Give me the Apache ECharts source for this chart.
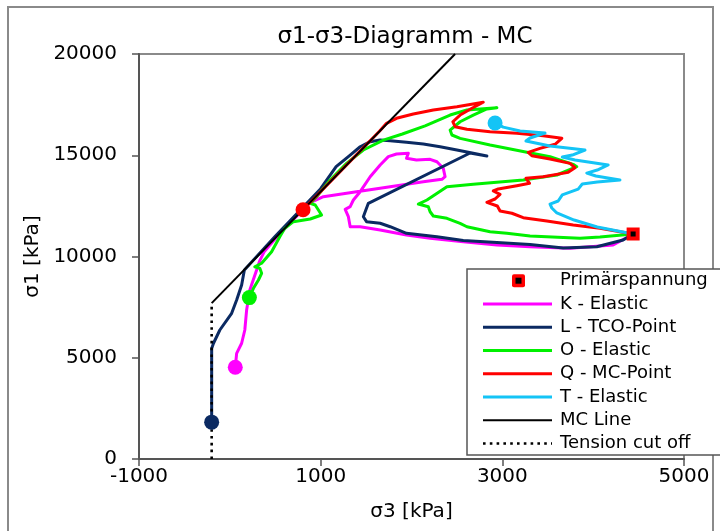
<!DOCTYPE html>
<html>
<head>
<meta charset="utf-8">
<script src="https://cdn.jsdelivr.net/npm/echarts@6/dist/echarts.min.js"></script>
<style>
  html, body { margin: 0; padding: 0; background: #fff; }
  #chart { width: 720px; height: 531px; }
</style>
</head>
<body>
<div id="chart"></div>
<script>
// Stress paths in the σ3–σ1 plane, [σ3, σ1] in kPa
const primary = [4440, 11110];

const kPath = [[4440,11110],[4220,10565],[3745,10405],[3305,10485],[2940,10565],[2570,10730],[2205,10900],[1945,11060],[1655,11310],[1435,11470],[1325,11470],[1305,11965],[1270,12330],[1325,12460],[1360,12790],[1435,13200],[1545,13940],[1655,14520],[1745,14930],[1835,15060],[1965,15095],[1945,14850],[2055,14765],[2205,14800],[2280,14680],[2350,14355],[2370,13940],[2335,13810],[2130,13695],[1765,13445],[1395,13200],[1030,12955],[880,12650],[700,11830],[500,10880],[380,10250],[330,9800],[295,9335],[220,8345],[185,7360],[165,6370],[130,5715],[75,5220],[60,4530]];

const lPath = [[4440,11110],[4330,10815],[4040,10485],[3670,10420],[3305,10590],[2940,10690],[2570,10790],[2280,10975],[1945,11145],[1765,11470],[1655,11640],[1505,11720],[1470,11965],[1490,12210],[1525,12625],[2645,15110],[2830,14960],[2680,15095],[2500,15260],[2315,15420],[2130,15555],[1945,15640],[1765,15720],[1655,15750],[1545,15670],[1435,15420],[1325,15010],[1170,14435],[1000,13350],[800,12400],[500,11000],[160,9330],[130,8590],[75,7850],[20,7195],[-110,6370],[-180,5715],[-200,5450],[-200,1820]];

const oPath = [[4440,11110],[4075,10960],[3855,10900],[3305,11010],[3050,11145],[2865,11225],[2610,11470],[2535,11640],[2390,11885],[2240,12000],[2205,12210],[2185,12460],[2075,12590],[2170,12790],[2390,13445],[2680,13565],[3230,13780],[3600,14025],[3820,14435],[3780,14550],[3525,14930],[3270,15145],[2865,15505],[2535,15835],[2445,16000],[2425,16245],[2535,16655],[2680,16985],[2830,17285],[2940,17345],[2610,17235],[2425,16985],[2150,16450],[1900,16050],[1690,15750],[1470,15260],[1285,14600],[1105,13780],[955,12950],[885,12625],[940,12545],[1010,12050],[885,11850],[700,11720],[605,11390],[550,10975],[460,10235],[350,9665],[275,9495],[330,9415],[350,9170],[315,8840],[260,8430],[215,7970]];

const qPath = [[4440,11110],[4075,11390],[3780,11555],[3490,11750],[3230,11915],[3105,12135],[2975,12245],[2945,12495],[2830,12675],[2920,12840],[2975,13070],[2900,13235],[2955,13335],[3160,13495],[3300,13615],[3260,13860],[3450,13940],[3725,14155],[3800,14385],[3745,14600],[3525,14815],[3325,14975],[3285,15145],[3415,15340],[3580,15540],[3655,15835],[3450,15965],[3160,16085],[2865,16160],[2610,16280],[2480,16410],[2455,16655],[2535,16985],[2665,17320],[2790,17615],[2500,17395],[2240,17235],[2020,17035],[1835,16825],[1725,16575],[1650,16200],[1200,14130],[806,12310]];

const tPath = [[4440,11110],[4045,11455],[3790,11800],[3600,12150],[3545,12395],[3525,12590],[3615,12740],[3660,13040],[3835,13330],[3880,13580],[4045,13680],[4295,13780],[4030,13975],[3930,14120],[4045,14270],[4165,14520],[3800,14765],[3660,14910],[3770,15010],[3910,15260],[3525,15460],[3260,15700],[3305,15850],[3470,16100],[3195,16200],[3010,16390],[2920,16590]];

const mcLine = [[-200,7700],[2480,20000]];
const tensionCutOff = [[-200,0],[-200,7700]];

const xTicks = { min: -1000, max: 5000, step: 2000 };
const yTicks = { min: 0, max: 20000, step: 5000 };

const FONT = 'DejaVu Sans';
const AXIS_FONT = 20;
const LEGEND_FONT = 18;
const TITLE_FONT = 23;

const paths = [
  { name: 'K - Elastic',   data: kPath, color: '#FF00FF' },
  { name: 'L - TCO-Point', data: lPath, color: '#0B2A62' },
  { name: 'O - Elastic',   data: oPath, color: '#00F000' },
  { name: 'Q - MC-Point',  data: qPath, color: '#FF0000' },
  { name: 'T - Elastic',   data: tPath, color: '#14C4F6' }
];

const series = [];
paths.forEach(p => {
  series.push({
    name: p.name, type: 'line', data: p.data, showSymbol: false, symbol: 'none',
    lineStyle: { color: p.color, width: 3, join: 'round', cap: 'round' },
    z: 2, animation: false, silent: true
  });
});
series.push({
  name: 'MC Line', type: 'line', data: mcLine, showSymbol: false, symbol: 'none',
  lineStyle: { color: '#000', width: 2 }, z: 3, animation: false, silent: true
});
series.push({
  name: 'Tension cut off', type: 'line', data: tensionCutOff, showSymbol: false, symbol: 'none',
  lineStyle: { color: '#000', width: 2.6, type: [2.6, 4.2] }, z: 3, animation: false, silent: true
});
// end point of each path
series.push({
  type: 'scatter', symbol: 'circle', symbolSize: 15, z: 4, animation: false, silent: true,
  data: paths.map(p => ({ value: p.data[p.data.length - 1], itemStyle: { color: p.color, opacity: 1 } }))
});
series.push({
  name: 'Primärspannung', type: 'scatter', symbol: 'rect', symbolSize: 9, z: 5,
  animation: false, silent: true,
  itemStyle: { color: '#000', borderColor: '#FF0000', borderWidth: 4, opacity: 1 },
  data: [primary]
});

// legend box
const legendItems = [
  { label: 'Primärspannung', kind: 'marker' },
  { label: 'K - Elastic', kind: 'line', color: '#FF00FF', width: 3 },
  { label: 'L - TCO-Point', kind: 'line', color: '#0B2A62', width: 3 },
  { label: 'O - Elastic', kind: 'line', color: '#00F000', width: 3 },
  { label: 'Q - MC-Point', kind: 'line', color: '#FF0000', width: 3 },
  { label: 'T - Elastic', kind: 'line', color: '#14C4F6', width: 3 },
  { label: 'MC Line', kind: 'line', color: '#000', width: 2 },
  { label: 'Tension cut off', kind: 'dots', color: '#000', width: 2.6 }
];
const graphics = [
  { type: 'rect', shape: { x: 8, y: 7, width: 705, height: 540 },
    style: { fill: 'none', stroke: '#8a8a8a', lineWidth: 2 }, z: 0, silent: true },
  { type: 'rect', shape: { x: 467, y: 269, width: 260, height: 186 },
    style: { fill: '#fff', stroke: '#555', lineWidth: 1.5 }, z: 10, silent: true }
];
legendItems.forEach((it, i) => {
  const y = 280.7 + i * 23.25;
  if (it.kind === 'marker') {
    graphics.push({ type: 'rect', shape: { x: 512, y: y - 6.5, width: 13, height: 13, r: 2 },
      style: { fill: '#FF0000' }, z: 11, silent: true });
    graphics.push({ type: 'rect', shape: { x: 515.5, y: y - 3, width: 6, height: 6 },
      style: { fill: '#000' }, z: 12, silent: true });
  } else {
    graphics.push({ type: 'line', shape: { x1: 483, y1: y, x2: 552, y2: y },
      style: { stroke: it.color, lineWidth: it.width,
               lineDash: it.kind === 'dots' ? [2.6, 4.2] : null }, z: 11, silent: true });
  }
  graphics.push({ type: 'text', x: 560, y: y,
    style: { text: it.label, fill: '#000', font: LEGEND_FONT + 'px "' + FONT + '"', textVerticalAlign: 'middle' },
    z: 11, silent: true });
});

const plain = v => String(v);

const chart = echarts.init(document.getElementById('chart'), null, { renderer: 'canvas' });
chart.setOption({
  animation: false,
  backgroundColor: '#fff',
  textStyle: { fontFamily: FONT },
  title: {
    text: 'σ1-σ3-Diagramm - MC', left: 400, top: 21, textAlign: 'center',
    textStyle: { fontFamily: FONT, fontSize: TITLE_FONT, fontWeight: 'normal', color: '#000' }
  },
  grid: { left: 139, right: 36, top: 54, bottom: 72, show: true,
          borderColor: '#8a8a8a', borderWidth: 2, backgroundColor: 'transparent' },
  xAxis: {
    type: 'value', min: xTicks.min, max: xTicks.max, interval: xTicks.step,
    name: 'σ3 [kPa]', nameLocation: 'middle', nameGap: 43,
    nameTextStyle: { fontFamily: FONT, fontSize: AXIS_FONT, color: '#000' },
    axisLine: { onZero: false, lineStyle: { color: '#555', width: 2 } },
    axisTick: { show: true, length: 7, lineStyle: { color: '#555', width: 1.5 } },
    axisLabel: { fontFamily: FONT, fontSize: AXIS_FONT, color: '#000', margin: 8, formatter: plain },
    splitLine: { show: false }
  },
  yAxis: {
    type: 'value', min: yTicks.min, max: yTicks.max, interval: yTicks.step,
    name: 'σ1 [kPa]', nameLocation: 'middle', nameGap: 94,
    nameTextStyle: { fontFamily: FONT, fontSize: AXIS_FONT, color: '#000' },
    axisLine: { onZero: false, lineStyle: { color: '#555', width: 2 } },
    axisTick: { show: true, length: 7, lineStyle: { color: '#555', width: 1.5 } },
    axisLabel: { fontFamily: FONT, fontSize: AXIS_FONT, color: '#000', margin: 22, formatter: plain },
    splitLine: { show: false }
  },
  graphic: graphics,
  series: series
});
</script>
</body>
</html>
